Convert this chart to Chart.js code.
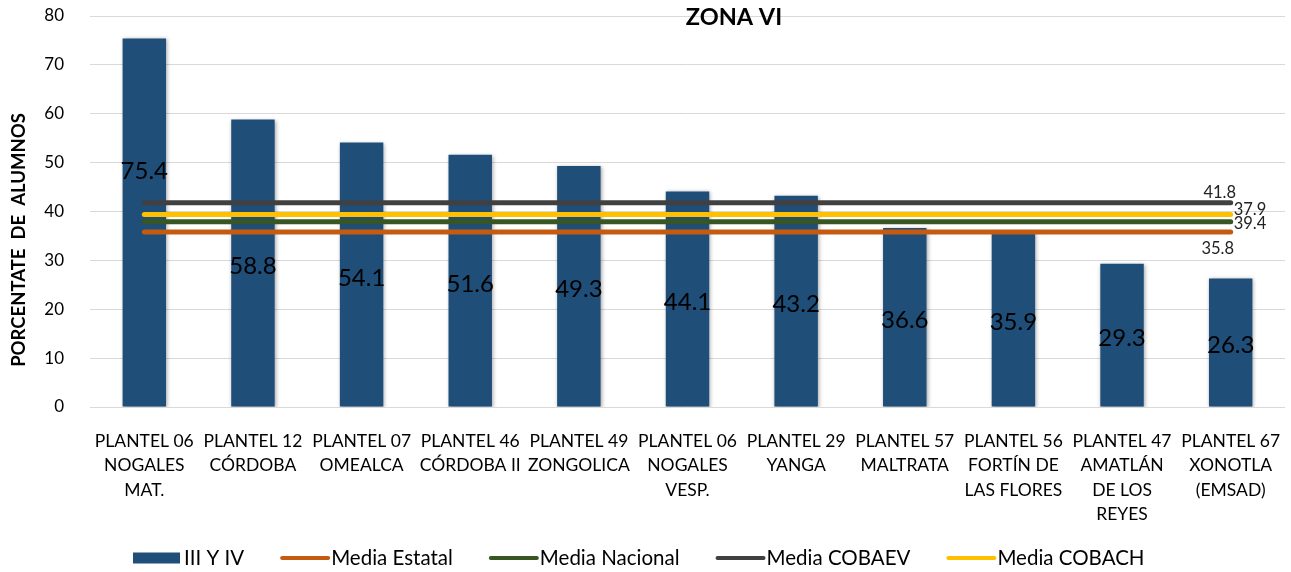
<!DOCTYPE html>
<html>
<head>
<meta charset="utf-8">
<title>Zona VI</title>
<script src="https://cdn.jsdelivr.net/npm/chart.js@4.4.1/dist/chart.umd.min.js"></script>
<style>
  html, body { margin: 0; padding: 0; background: #fff; }
  #wrap { width: 1291px; height: 572px; position: relative; }
</style>
</head>
<body>
<div id="wrap"><canvas id="grafica"></canvas></div>
<script>
// --- datos ---
var planteles = [
  ['PLANTEL 06', 'NOGALES', 'MAT.'],
  ['PLANTEL 12', 'CÓRDOBA'],
  ['PLANTEL 07', 'OMEALCA'],
  ['PLANTEL 46', 'CÓRDOBA II'],
  ['PLANTEL 49', 'ZONGOLICA'],
  ['PLANTEL 06', 'NOGALES', 'VESP.'],
  ['PLANTEL 29', 'YANGA'],
  ['PLANTEL 57', 'MALTRATA'],
  ['PLANTEL 56', 'FORTÍN DE', 'LAS FLORES'],
  ['PLANTEL 47', 'AMATLÁN', 'DE LOS', 'REYES'],
  ['PLANTEL 67', 'XONOTLA', '(EMSAD)']
];
var terceroYCuarto = [75.4, 58.8, 54.1, 51.6, 49.3, 44.1, 43.2, 36.6, 35.9, 29.3, 26.3];
var mediaEstatal  = [35.8, 35.8, 35.8, 35.8, 35.8, 35.8, 35.8, 35.8, 35.8, 35.8, 35.8];
var mediaNacional = [37.9, 37.9, 37.9, 37.9, 37.9, 37.9, 37.9, 37.9, 37.9, 37.9, 37.9];
var mediaCobaev   = [41.8, 41.8, 41.8, 41.8, 41.8, 41.8, 41.8, 41.8, 41.8, 41.8, 41.8];
var mediaCobach   = [39.4, 39.4, 39.4, 39.4, 39.4, 39.4, 39.4, 39.4, 39.4, 39.4, 39.4];
var yTicks = [0, 10, 20, 30, 40, 50, 60, 70, 80];

var FONT = 'Lato, "Open Sans", sans-serif';

// posicion de las etiquetas de las medias (junto al ultimo punto)
var etiquetaMedia = {
  'Media Estatal':  { align: 'center', dx: -13, dy: 17 },
  'Media Nacional': { align: 'left',   dx: 3,   dy: -12 },
  'Media COBAEV':   { align: 'center', dx: -11, dy: -10 },
  'Media COBACH':   { align: 'left',   dx: 3,   dy: 9 }
};

function lineaMedia(label, data, color) {
  return {
    type: 'line',
    label: label,
    data: data,
    borderColor: color,
    backgroundColor: color,
    borderWidth: 5,
    borderCapStyle: 'round',
    pointRadius: 0,
    tension: 0,
    fill: false,
    order: 1
  };
}

var extras = {
  id: 'extras',
  beforeDatasetDraw: function (chart, args) {
    if (args.index === 0) {
      var ctx = chart.ctx;
      ctx.save();
      ctx.shadowColor = 'rgba(0,0,0,0.35)';
      ctx.shadowBlur = 4;
      ctx.shadowOffsetX = 1;
      ctx.shadowOffsetY = 1;
    }
  },
  afterDatasetDraw: function (chart, args) {
    if (args.index === 0) chart.ctx.restore();
  },
  afterDatasetsDraw: function (chart) {
    var ctx = chart.ctx;
    var y = chart.scales.y;
    // etiquetas de las barras
    var barras = chart.getDatasetMeta(0).data;
    ctx.save();
    ctx.font = '24px ' + FONT;
    ctx.fillStyle = '#000';
    ctx.textAlign = 'center';
    ctx.textBaseline = 'middle';
    barras.forEach(function (b, i) {
      var v = terceroYCuarto[i];
      var py = y.getPixelForValue(v / 2) + (i === 0 ? -51 : 3);
      ctx.fillText(v.toFixed(1), b.x, py);
    });
    // etiquetas de las medias
    ctx.font = '16.5px ' + FONT;
    ctx.fillStyle = '#222';
    for (var d = 1; d < chart.data.datasets.length; d++) {
      var ds = chart.data.datasets[d];
      var pts = chart.getDatasetMeta(d).data;
      var last = pts[pts.length - 1];
      var cfg = etiquetaMedia[ds.label];
      ctx.textAlign = cfg.align;
      ctx.fillText(ds.data[ds.data.length - 1].toFixed(1), last.x + cfg.dx, last.y + cfg.dy);
    }
    ctx.restore();
  },
  afterDraw: function (chart) {
    var ctx = chart.ctx;
    ctx.save();
    // titulo
    ctx.font = 'bold 23.5px ' + FONT;
    ctx.fillStyle = '#000';
    ctx.textAlign = 'center';
    ctx.textBaseline = 'middle';
    ctx.fillText('ZONA VI', 734, 17);
    // titulo eje y
    ctx.save();
    ctx.translate(19, 240);
    ctx.rotate(-Math.PI / 2);
    ctx.font = 'bold 18.5px ' + FONT;
    ctx.fillText('PORCENTATE  DE  ALUMNOS', 0, 0);
    ctx.restore();
    // leyenda
    ctx.font = '20.5px ' + FONT;
    ctx.textAlign = 'left';
    var x = 133, ly = 558;
    chart.data.datasets.forEach(function (ds) {
      if (ds.type === 'line') {
        ctx.strokeStyle = ds.borderColor;
        ctx.lineWidth = 4;
        ctx.lineCap = 'round';
        ctx.beginPath();
        ctx.moveTo(x + 2, ly);
        ctx.lineTo(x + 48, ly);
        ctx.stroke();
      } else {
        ctx.fillStyle = ds.backgroundColor;
        ctx.fillRect(x, ly - 5.5, 47, 11);
      }
      ctx.fillStyle = '#000';
      ctx.fillText(ds.label, x + 51, ly);
      x += 51 + ctx.measureText(ds.label).width + 36;
    });
    ctx.restore();
  }
};

new Chart(document.getElementById('grafica'), {
  type: 'bar',
  data: {
    labels: planteles,
    datasets: [
      {
        label: 'III Y IV',
        data: terceroYCuarto,
        backgroundColor: '#1f4e79',
        barPercentage: 0.8,
        categoryPercentage: 0.5,
        order: 5
      },
      lineaMedia('Media Estatal', mediaEstatal, '#c55a11'),
      lineaMedia('Media Nacional', mediaNacional, '#375623'),
      lineaMedia('Media COBAEV', mediaCobaev, '#404040'),
      lineaMedia('Media COBACH', mediaCobach, '#ffc000')
    ]
  },
  options: {
    responsive: true,
    maintainAspectRatio: false,
    animation: false,
    layout: { padding: { top: 16, right: 6, left: 0, bottom: 0 } },
    plugins: {
      legend: { display: false },
      title: { display: false },
      tooltip: { enabled: false }
    },
    scales: {
      x: {
        grid: { display: false, drawTicks: false },
        border: { display: false },
        ticks: {
          autoSkip: false,
          maxRotation: 0,
          padding: 22,
          color: '#000',
          font: { family: FONT, size: 17.5, lineHeight: 1.4 }
        },
        afterFit: function (s) { s.height = 165; s.paddingLeft = 0; s.paddingRight = 0; }
      },
      y: {
        min: 0,
        max: 80,
        afterBuildTicks: function (s) { s.ticks = yTicks.map(function (v) { return { value: v }; }); },
        grid: { color: '#d9d9d9', lineWidth: 1, drawTicks: false },
        border: { display: false },
        ticks: {
          padding: 26,
          color: '#000',
          font: { family: FONT, size: 17 }
        },
        afterFit: function (s) { s.width = 90; s.paddingTop = 0; s.paddingBottom = 0; }
      }
    }
  },
  plugins: [extras]
});
</script>
</body>
</html>
